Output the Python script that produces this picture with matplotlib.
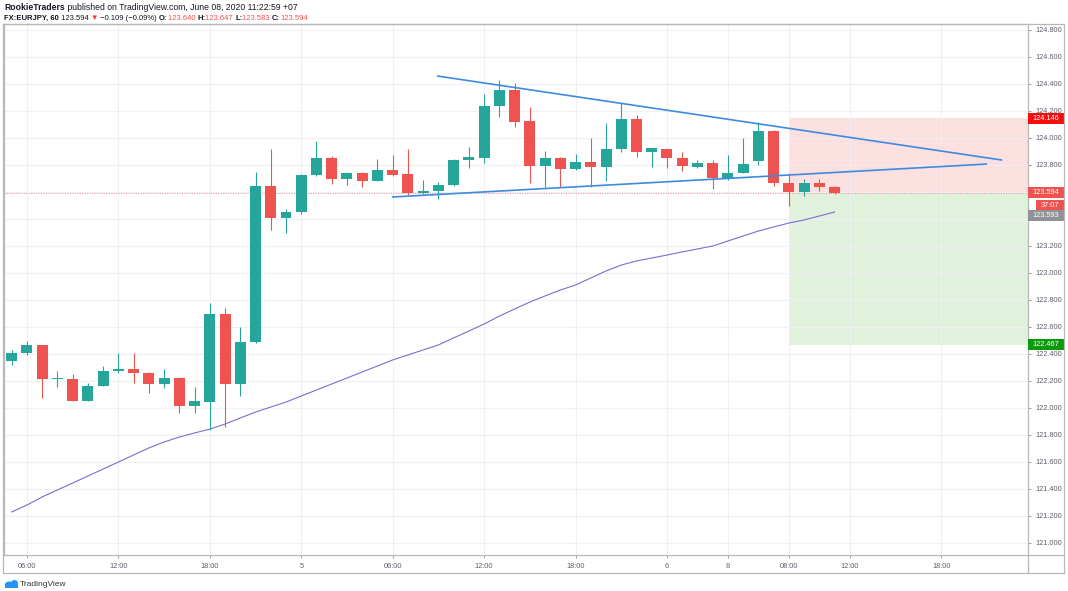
import matplotlib
matplotlib.use('Agg')
import matplotlib.pyplot as plt
from matplotlib.patches import Rectangle, Ellipse
from matplotlib.transforms import blended_transform_factory

plt.rcParams['font.family'] = ['Liberation Sans', 'DejaVu Sans']

# ---------------- data ----------------
bar_index = list(range(5, 60))
opens = [122.350, 122.410, 122.467, 122.213, 122.213, 122.054, 122.163, 122.276, 122.291, 122.261,
         122.178, 122.224, 122.017, 122.047, 122.696, 122.176, 122.487, 123.644, 123.405, 123.450,
         123.726, 123.854, 123.696, 123.739, 123.684, 123.765, 123.733, 123.590, 123.607, 123.652,
         123.837, 123.850, 124.237, 124.356, 124.126, 123.793, 123.854, 123.768, 123.822, 123.783,
         123.919, 124.141, 123.899, 123.919, 123.850, 123.787, 123.812, 123.694, 123.743, 123.830,
         124.052, 123.669, 123.602, 123.669, 123.640]
highs = [122.430, 122.496, 122.470, 122.276, 122.250, 122.187, 122.313, 122.410, 122.405, 122.270,
         122.289, 122.228, 122.153, 122.780, 122.738, 122.602, 123.746, 123.919, 123.474, 123.733,
         123.975, 123.867, 123.745, 123.745, 123.842, 123.874, 123.919, 123.689, 123.676, 123.845,
         123.931, 124.326, 124.430, 124.405, 124.227, 123.906, 123.860, 123.883, 124.000, 124.113,
         124.257, 124.170, 123.925, 123.922, 123.894, 123.834, 123.837, 123.874, 124.000, 124.121,
         124.060, 123.739, 123.694, 123.694, 123.647]
lows = [122.316, 122.393, 122.072, 122.153, 122.050, 122.050, 122.160, 122.261, 122.183, 122.109,
        122.146, 121.965, 121.965, 121.837, 121.860, 122.091, 122.480, 123.319, 123.294, 123.440,
        123.720, 123.657, 123.652, 123.639, 123.680, 123.720, 123.580, 123.585, 123.546, 123.648,
        123.780, 123.817, 124.158, 124.079, 123.664, 123.635, 123.635, 123.766, 123.639, 123.684,
        123.899, 123.857, 123.787, 123.780, 123.756, 123.780, 123.620, 123.690, 123.740, 123.800,
        123.644, 123.496, 123.570, 123.607, 123.583]
closes = [122.410, 122.467, 122.213, 122.220, 122.054, 122.163, 122.276, 122.291, 122.257, 122.178,
          122.224, 122.017, 122.050, 122.696, 122.176, 122.487, 123.644, 123.405, 123.450, 123.726,
          123.854, 123.696, 123.739, 123.684, 123.765, 123.726, 123.590, 123.610, 123.652, 123.837,
          123.857, 124.237, 124.356, 124.121, 123.793, 123.854, 123.768, 123.822, 123.783, 123.919,
          124.141, 123.899, 123.924, 123.850, 123.793, 123.812, 123.701, 123.743, 123.806, 124.052,
          123.669, 123.602, 123.669, 123.639, 123.594]
ma_values = [121.230, 121.281, 121.341, 121.393, 121.444, 121.496, 121.548, 121.600, 121.652, 121.704,
             121.748, 121.785, 121.815, 121.844, 121.881, 121.926, 121.970, 122.007, 122.044, 122.089,
             122.133, 122.178, 122.222, 122.267, 122.311, 122.356, 122.393, 122.430, 122.467, 122.519,
             122.570, 122.622, 122.681, 122.733, 122.785, 122.830, 122.874, 122.911, 122.963, 123.015,
             123.059, 123.089, 123.111, 123.133, 123.156, 123.178, 123.200, 123.237, 123.274, 123.311,
             123.341, 123.370, 123.393, 123.422, 123.452]

upper_line_x = [32.94, 69.96]
upper_line_y = [124.459, 123.837]
lower_line_x = [29.99, 68.97]
lower_line_y = [123.563, 123.807]

entry_price = 123.594
stop_price = 124.146
target_price = 122.467
bid_label = '123.593'
countdown = '37:07'
position_start = 56

x_tick_pos = [6, 12, 18, 24, 30, 36, 42, 48, 52, 56, 60, 66]
x_tick_labels = ['06:00', '12:00', '18:00', '5', '06:00', '12:00', '18:00', '6', '8', '08:00', '12:00', '18:00']
y_ticks = [121.0 + 0.2 * k for k in range(20)]
hidden_y_labels = ['123.600', '123.400']

# ---------------- figure ----------------
W, H = 1068, 591
fig = plt.figure(figsize=(W / 100, H / 100), dpi=100)
fig.patch.set_facecolor('white')

XL = (4.495, 71.69)
YL = (120.9111, 124.8444)
ax = fig.add_axes([4 / W, (H - 555) / H, 1024 / W, 531 / H])
ax.set_xlim(*XL)
ax.set_ylim(*YL)
ax.set_facecolor('white')

UP = '#26a69a'
DN = '#ef5350'
GRID = '#eef0f4'
TXT = '#5d606b'

for s in ax.spines.values():
    s.set_color('#b8b8b8')
    s.set_linewidth(0.9)

ax.yaxis.tick_right()
ax.set_yticks(y_ticks)
ylabels = ['%.3f' % v for v in y_ticks]
ax.set_yticklabels(['' if l in hidden_y_labels else l for l in ylabels])
ax.set_xticks(x_tick_pos)
ax.set_xticklabels(x_tick_labels)
ax.tick_params(axis='y', direction='out', length=2.5, width=0.7, color='#9a9a9a', pad=3,
               labelsize=5.3, labelcolor=TXT)
ax.tick_params(axis='x', direction='out', length=2.5, width=0.7, color='#9a9a9a', pad=3,
               labelsize=5.3, labelcolor=TXT)
ax.grid(True, color=GRID, linewidth=0.8, zorder=0)
ax.set_axisbelow(True)

# position zones
x0f = (position_start - XL[0]) / (XL[1] - XL[0])
ax.axhspan(entry_price, stop_price, xmin=x0f, xmax=1.0,
           facecolor='#fde0e0', edgecolor='none', zorder=0.5)
ax.axhspan(target_price, entry_price, xmin=x0f, xmax=1.0,
           facecolor='#e0f1dc', edgecolor='none', zorder=0.5)

# current price dotted line
ax.axhline(entry_price, color='#f08a88', linestyle=(0, (1, 1.5)), linewidth=0.7, zorder=1)

# moving average
ax.plot(bar_index, ma_values, color='#7e6cd0', linewidth=0.8, zorder=2)

# candles
body_w = 0.72
for i, o, h, l, c in zip(bar_index, opens, highs, lows, closes):
    col = UP if c >= o else DN
    ax.vlines(i, l, h, color=col, linewidth=0.8, zorder=3)
    bottom = min(o, c)
    height = max(abs(c - o), 0.006)
    ax.add_patch(Rectangle((i - body_w / 2, bottom), body_w, height, facecolor=col,
                           edgecolor='none', zorder=4))

# trendlines
ax.plot(upper_line_x, upper_line_y, color='#3d8be0', linewidth=1.2, zorder=5, solid_capstyle='round')
ax.plot(lower_line_x, lower_line_y, color='#3d8be0', linewidth=1.2, zorder=5, solid_capstyle='round')

# price-scale labels
bt = blended_transform_factory(ax.transAxes, ax.transData)
px_per_price = 531 / (YL[1] - YL[0])
box_h = 11 / px_per_price
axw = 1024.0


def price_label(price, text, fc, x0=0.0, width=36.0, dy_px=0.0):
    yc = price - dy_px / px_per_price
    xa = 1.0 + x0 / axw
    ax.add_patch(Rectangle((xa, yc - box_h / 2), width / axw, box_h, transform=bt,
                           facecolor=fc, edgecolor='none', clip_on=False, zorder=10))
    ax.text(xa + width / 2 / axw, yc, text, transform=bt, ha='center', va='center',
            fontsize=5.3, color='white', clip_on=False, zorder=11)


price_label(stop_price, '%.3f' % stop_price, '#f80d0d')
price_label(entry_price, '%.3f' % entry_price, '#ef5350')
price_label(entry_price, countdown, '#ef5350', x0=8, width=28, dy_px=12.5)
price_label(entry_price, bid_label, '#8f9297', dy_px=22.5)
price_label(target_price, '%.3f' % target_price, '#0c9a0c')

# ---------------- overlay: frame, header, logo ----------------
ov = fig.add_axes([0, 0, 1, 1], zorder=20)
ov.set_xlim(0, W)
ov.set_ylim(H, 0)
ov.axis('off')
ov.patch.set_alpha(0)
fc = '#b8b8b8'
ov.plot([3, 3], [24, 573], color=fc, lw=0.9)
ov.plot([3, 1064], [24, 24], color=fc, lw=0.9)
ov.plot([1064, 1064], [24, 573], color=fc, lw=0.9)
ov.plot([3, 1064], [573, 573], color=fc, lw=0.9)
ov.plot([1028, 1028], [555, 573], color=fc, lw=0.9)
ov.plot([1028, 1064], [555, 555], color=fc, lw=0.9)

renderer = fig.canvas.get_renderer()
DARK = '#131722'
RED = '#ef5350'


def rich(x, y, pieces, size):
    for s, col, bold in pieces:
        t = ov.text(x, y, s, fontsize=size, color=col, fontweight='bold' if bold else 'normal',
                    ha='left', va='center', family=['Liberation Sans', 'DejaVu Sans'])
        bb = t.get_window_extent(renderer)
        x += bb.width


rich(4, 7.5, [('RookieTraders', DARK, True),
              (' published on TradingView.com, June 08, 2020 11:22:59 +07', DARK, False)], 6.2)
rich(4, 18.5, [('FX:EURJPY, 60', DARK, True), (' 123.594 ', DARK, False), ('▼', '#f23645', False),
               (' \u22120.109 (\u22120.09%) ', DARK, False),
               ('O:', DARK, True), ('123.640 ', RED, False),
               ('H:', DARK, True), ('123.647 ', RED, False),
               ('L:', DARK, True), ('123.583 ', RED, False),
               ('C:', DARK, True), ('123.594', RED, False)], 5.5)

# TradingView logo
ov.add_patch(Ellipse((9.5, 584.5), 9, 6, facecolor='#2196f3', edgecolor='none'))
ov.add_patch(Ellipse((14.5, 583.5), 7, 7, facecolor='#2196f3', edgecolor='none'))
ov.add_patch(Rectangle((5, 584), 13, 3.5, facecolor='#2196f3', edgecolor='none'))
ov.text(20, 584, 'TradingView', fontsize=6, color='#333333', ha='left', va='center')

fig.savefig('out.png', dpi=100, facecolor='white')
